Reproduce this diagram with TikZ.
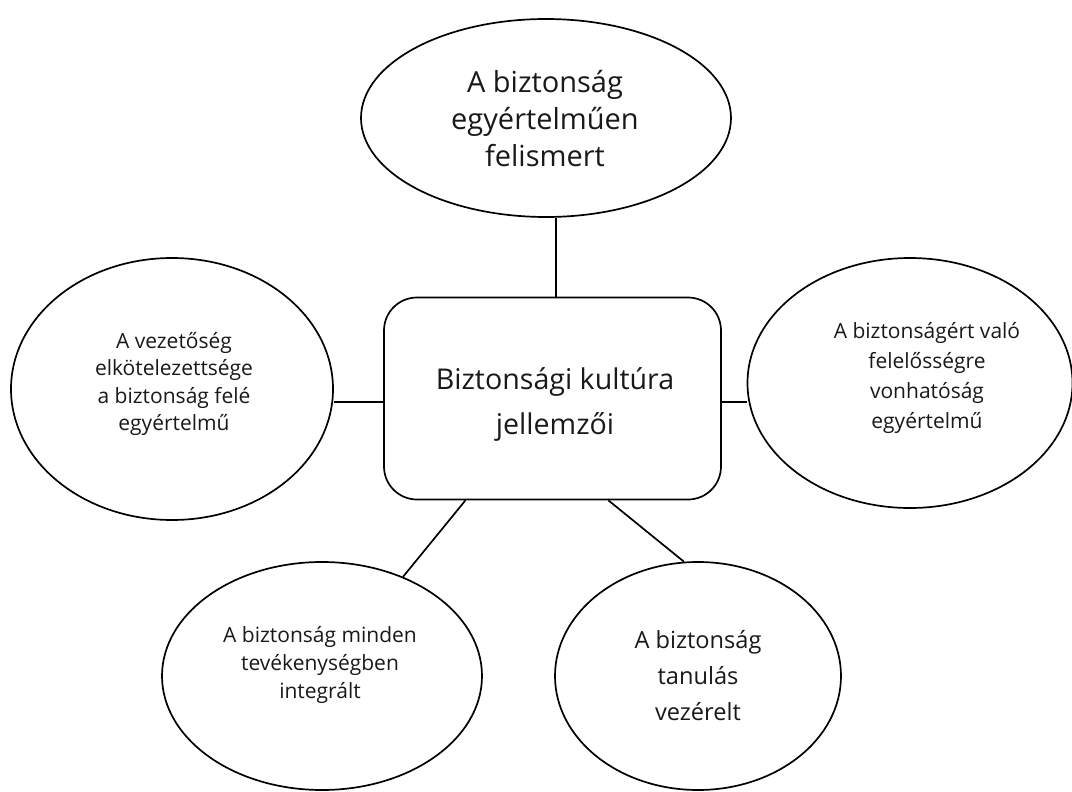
\documentclass[tikz,border=0pt]{standalone}
\usepackage{fontspec}
\setmainfont{Open Sans}
\usetikzlibrary{shapes.geometric,calc}
\begin{document}
\begin{tikzpicture}[x=1pt,y=-1pt,
  bubble/.style={draw, ellipse, line width=1.7pt, inner sep=0pt},
  lbl/.style={align=center, inner sep=0pt, text=black!90},
  link/.style={line width=1.7pt}]
\useasboundingbox (0,0) rectangle (1072,792);
% shapes
\node[bubble, minimum width=370pt, minimum height=198pt] (top) at (546,118) {};
\node[bubble, minimum width=322pt, minimum height=262pt] (lft) at (172,389) {};
\node[bubble, minimum width=325pt, minimum height=250pt] (rgt) at (910,383) {};
\node[bubble, minimum width=320pt, minimum height=228pt] (bl) at (322,676) {};
\node[bubble, minimum width=286pt, minimum height=228pt] (br) at (698,676) {};
\node[draw, rounded corners=33pt, minimum width=337pt, minimum height=202pt, line width=1.7pt, inner sep=0pt] (c) at (552.5,398.5) {};
% texts
\node[lbl, font=\fontsize{29}{37}\selectfont] (toptxt) at (545,119) {A biztonság\\egyértelműen\\felismert};
\node[lbl, font=\fontsize{28.6}{45}\selectfont] (ctxt) at (555,404) {Biztonsági kultúra\\jellemzői};
\node[lbl, font=\fontsize{21}{27.5}\selectfont] (ltxt) at (174,384) {A vezetőség\\elkötelezettsége\\a biztonság felé\\egyértelmű};
\node[lbl, font=\fontsize{21}{30}\selectfont] (rtxt) at (927,378) {A biztonságért való\\felelősségre\\vonhatóság\\egyértelmű};
\node[lbl, font=\fontsize{21}{28}\selectfont] (bltxt) at (320,665) {A biztonság minden\\tevékenységben\\integrált};
\node[lbl, font=\fontsize{23.6}{36}\selectfont] (brtxt) at (698,676) {A biztonság\\tanulás\\vezérelt};
% connectors
\coordinate (ct) at ($(c.north)+(3.5,0)$);
\coordinate (cbl) at ($(c.south west)!0.243!(c.south east)$);
\coordinate (cbr) at ($(c.south west)!0.665!(c.south east)$);
\coordinate (cl) at ($(c.west)+(0,3.5)$);
\coordinate (cr) at ($(c.east)+(0,3.5)$);
\draw[link] (ct) -- (ct |- top.south);
\draw[link] (cl) -- (cl -| lft.east);
\draw[link] (cr) -- (cr -| rgt.west);
\draw[link] (cbl) -- (bl);
\draw[link] (cbr) -- (br.97.5);
\end{tikzpicture}
\end{document}
